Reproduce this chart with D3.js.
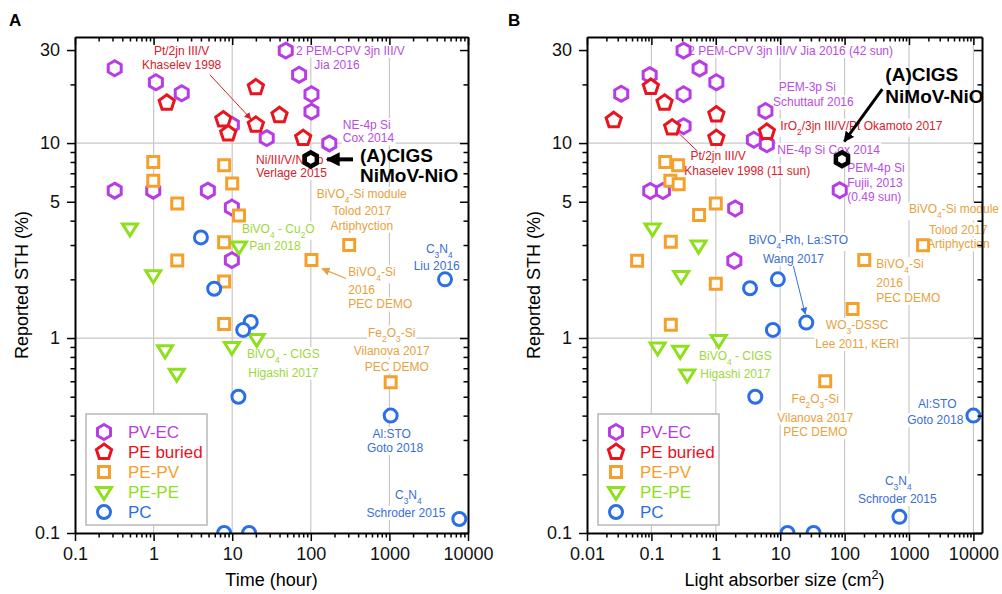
<!DOCTYPE html>
<html>
<head>
<meta charset="utf-8">
<script src="https://cdn.jsdelivr.net/npm/d3@7"></script>
<style>
body { margin: 0; background: #fff; }
svg { font-family: Arial, "Liberation Sans", sans-serif; }
</style>
</head>
<body>
<svg id="chart" width="1002" height="594"></svg>
<script>
const categories = ["PV-EC", "PE buried", "PE-PV", "PE-PE", "PC"];
const colors = ["#b83ce6", "#e8141e", "#f5a02a", "#8edf1c", "#2a6ee8"];
const noteColors = ["#b84de0", "#d8202c", "#e6a23e", "#9cd83c", "#3a6ed8", "#000"];

const yTicks = [0.1, 1, 5, 10, 30];
const xTicksA = [0.1, 1, 10, 100, 1000, 10000];
const xTicksB = [0.01, 0.1, 1, 10, 100, 1000, 10000];

// panel A : time (hour) vs reported STH (%)
const pvEcTime = [[0.32,24.2],[1.07,20.5],[2.28,18.0],[48,29.8],[71,22.4],[102,17.8],[102,14.5],[9.9,12.4],[27.5,10.6],[172,9.96],[0.32,5.7],[0.99,5.7],[4.9,5.7],[9.9,4.67],[9.9,2.51]];
const peBuriedTime = [[1.47,16.1],[20,19.3],[7.7,13.2],[8.9,11.2],[20,12.4],[40,13.9],[80,10.6]];
const pePvTime = [[0.99,8.0],[0.99,6.4],[2.0,4.9],[7.9,7.7],[10,6.2],[12.2,4.25],[7.9,3.1],[2.0,2.5],[7.9,1.95],[7.9,1.18],[102,2.51],[308,3.0],[1038,0.594]];
const pePeTime = [[0.5,3.65],[0.99,2.1],[12.2,2.95],[1.4,0.865],[1.97,0.656],[9.9,0.9],[20.5,0.99]];
const pcTime = [[4.0,3.28],[5.9,1.79],[17.2,1.21],[13.8,1.1],[12,0.5],[7.9,0.1],[16.4,0.1],[5100,2.0],[1038,0.4],[7750,0.118]];
const cigsTime = [[100,8.25]];

// panel B : light absorber size (cm2) vs reported STH (%)
const pvEcSize = [[0.316,29.8],[0.56,24.1],[1.02,20.5],[0.094,22.3],[0.034,17.9],[0.316,17.8],[0.316,12.2],[5.9,14.6],[3.9,10.4],[6.2,9.85],[0.096,5.68],[0.151,5.68],[2.0,4.62],[1.94,2.49],[84,5.73]];
const peBuriedSize = [[0.026,13.1],[0.098,19.4],[0.16,16.1],[0.21,12.0],[1.02,14.0],[1.02,10.6],[6.2,11.4]];
const pePvSize = [[0.164,8.0],[0.26,7.7],[0.197,6.4],[0.265,6.15],[1.0,4.9],[0.55,4.28],[0.2,3.12],[0.06,2.49],[1.0,1.9],[0.2,1.17],[1656,2.99],[202,2.51],[133,1.41],[50,0.6]];
const pePeSize = [[0.104,3.65],[0.54,2.98],[0.29,2.08],[0.125,0.895],[0.28,0.86],[1.11,0.977],[0.36,0.65]];
const pcSize = [[3.4,1.8],[9.2,2.0],[25.4,1.2],[7.7,1.1],[4.1,0.5],[13,0.1],[33,0.1],[710,0.121],[10000,0.40]];
const cigsSize = [[91,8.26]];

// notes: text, x, y (data units), colour index, anchor
const notesA = [
  ["Pt/2jn III/V", 2.27, 29.8, 1, "middle"],
  ["Khaselev 1998", 2.27, 25.2, 1, "middle"],
  ["2 PEM-CPV 3jn III/V", 65, 29.8, 0, "start"],
  ["Jia 2016", 215, 25.2, 0, "middle"],
  ["NE-4p Si", 255, 12.4, 0, "start"],
  ["Cox 2014", 255, 10.6, 0, "start"],
  ["Ni/III/V/NiMo", 54, 8.25, 1, "middle"],
  ["Verlage 2015", 57, 7.0, 1, "middle"],
  ["BiVO_4-Si module", 445, 5.5, 2, "middle"],
  ["Tolod 2017", 445, 4.5, 2, "middle"],
  ["Artiphyction", 445, 3.78, 2, "middle"],
  ["BiVO_4 - Cu_2O", 38.6, 3.65, 3, "middle"],
  ["Pan 2018", 35, 2.96, 3, "middle"],
  ["C_3N_4", 4310, 2.88, 4, "middle"],
  ["Liu 2016", 4000, 2.34, 4, "middle"],
  ["BiVO_4-Si", 300, 2.18, 2, "start"],
  ["2016", 300, 1.76, 2, "start"],
  ["PEC DEMO", 300, 1.49, 2, "start"],
  ["BiVO_4 - CIGS", 44.7, 0.832, 3, "middle"],
  ["Higashi 2017", 44.7, 0.664, 3, "middle"],
  ["Fe_2O_3-Si", 1070, 1.07, 2, "middle"],
  ["Vilanova  2017", 1070, 0.865, 2, "middle"],
  ["PEC DEMO", 1240, 0.716, 2, "middle"],
  ["Al:STO", 1070, 0.323, 4, "middle"],
  ["Goto 2018", 1180, 0.274, 4, "middle"],
  ["C_3N_4", 1740, 0.157, 4, "middle"],
  ["Schroder 2015", 1625, 0.127, 4, "middle"]
];
const notesB = [
  ["2 PEM-CPV 3jn III/V  Jia 2016 (42 sun)", 0.374, 29.8, 0, "start"],
  ["PEM-3p Si", 26.4, 19.4, 0, "middle"],
  ["Schuttauf 2016", 32.7, 16.2, 0, "middle"],
  ["IrO_2/3jn III/V/Pt Okamoto 2017", 10.05, 12.3, 1, "start"],
  ["NE-4p Si Cox 2014", 9.0, 9.29, 0, "start"],
  ["Pt/2jn III/V", 1.09, 8.58, 1, "middle"],
  ["Khaselev 1998 (11 sun)", 3.08, 7.19, 1, "middle"],
  ["PEM-4p Si", 110, 7.45, 0, "start"],
  ["Fujii, 2013", 110, 6.24, 0, "start"],
  ["(0.49 sun)", 110, 5.32, 0, "start"],
  ["BiVO_4-Si module", 25000, 4.58, 2, "end"],
  ["Tolod 2017", 5840, 3.61, 2, "middle"],
  ["Artiphyction", 5840, 3.03, 2, "middle"],
  ["BiVO_4-Si", 310, 2.39, 2, "start"],
  ["2016", 310, 1.92, 2, "start"],
  ["PEC DEMO", 310, 1.61, 2, "start"],
  ["WO_3-DSSC", 157, 1.17, 2, "middle"],
  ["Lee 2011, KERI", 157, 0.935, 2, "middle"],
  ["BiVO_4-Rh, La:STO", 19.1, 3.19, 4, "middle"],
  ["Wang 2017", 16, 2.55, 4, "middle"],
  ["BiVO_4 - CIGS", 2.01, 0.812, 3, "middle"],
  ["Higashi 2017", 2.01, 0.654, 3, "middle"],
  ["Fe_2O_3-Si", 35, 0.487, 2, "middle"],
  ["Vilanova  2017", 35, 0.392, 2, "middle"],
  ["PEC DEMO", 35, 0.329, 2, "middle"],
  ["Al:STO", 2750, 0.459, 4, "middle"],
  ["Goto 2018", 2560, 0.38, 4, "middle"],
  ["C_3N_4", 682, 0.186, 4, "middle"],
  ["Schroder 2015", 658, 0.15, 4, "middle"]
];
const boldA = [["(A)CIGS", 423, 8.7], ["NiMoV-NiO", 423, 6.85]];
const boldB = [["(A)CIGS", 429, 22.6], ["NiMoV-NiO", 429, 17.4]];

// arrows: from, to (data units), colour index, width
const arrowsA = [[[5.2,22.4],[17.3,13.3],1,1], [[281,2.02],[139,2.27],2,1.2], [[344,8.25],[161,8.25],5,4]];
const arrowsB = [[[0.516,9.1],[0.227,11.8],1,1], [[385,18.9],[99,10.2],5,3], [[16,2.34],[24.5,1.33],4,1]];

const svg = d3.select("#chart");

const defs = svg.append("defs");
noteColors.forEach((c, i) => {
  defs.append("marker").attr("id", "ah" + i)
    .attr("viewBox", "0 0 10 10").attr("refX", 9).attr("refY", 5)
    .attr("markerWidth", i === 5 ? 3.5 : 7).attr("markerHeight", i === 5 ? 3.5 : 7)
    .attr("markerUnits", "strokeWidth").attr("orient", "auto")
    .append("path").attr("d", "M0,0 L10,5 L0,10 z").attr("fill", c);
});

function polygon(n, r, rot) {
  const pts = d3.range(n).map(k => {
    const a = (rot + k * 360 / n) * Math.PI / 180;
    return [r * Math.cos(a), r * Math.sin(a)];
  });
  return "M" + pts.map(p => p.join(",")).join("L") + "Z";
}
const shapes = [
  polygon(6, 7.5, -90),
  polygon(5, 8, -90),
  "M-5.5,-5.5H5.5V5.5H-5.5Z",
  "M-7.5,-4.5H7.5L0,7.5Z",
  d3.symbol(d3.symbolCircle, Math.PI * 6.5 * 6.5)()
];

function rich(t, s) {
  s.split(/([_^]\d)/).forEach(p => {
    if (!p) return;
    if (p[0] === "_" || p[0] === "^") {
      t.append("tspan").attr("baseline-shift", p[0] === "_" ? "sub" : "super")
        .attr("font-size", "70%").text(p[1]);
    } else t.append("tspan").text(p);
  });
}

function majorMinor(domain) {
  const out = [];
  for (let k = Math.floor(Math.log10(domain[0])); k <= Math.ceil(Math.log10(domain[1])); k++) {
    for (let m = 1; m <= 9; m++) {
      const v = +(m * Math.pow(10, k)).toPrecision(6);
      if (v >= domain[0] * 0.999 && v <= domain[1] * 1.001) out.push(v);
    }
  }
  return out;
}

function drawPanel(cfg) {
  const x = d3.scaleLog().domain(cfg.xDomain).range(cfg.xRange);
  const y = d3.scaleLog().domain([0.1, 35]).range([533, 37]);
  const [x0, x1] = cfg.xRange, [y0, y1] = y.range();
  const g = svg.append("g");

  // grid
  g.selectAll(".gx").data(cfg.xGrid).join("line")
    .attr("x1", d => x(d)).attr("x2", d => x(d)).attr("y1", y0).attr("y2", y1)
    .attr("stroke", "#c8c8c8").attr("stroke-width", 1.2);
  g.selectAll(".gy").data([1, 10]).join("line")
    .attr("x1", x0).attr("x2", x1).attr("y1", d => y(d)).attr("y2", d => y(d))
    .attr("stroke", "#c8c8c8").attr("stroke-width", 1.2);

  // notes with white boxes
  const nl = g.append("g").attr("font-size", 12);
  cfg.notes.forEach(n => {
    const ng = nl.append("g");
    const r = ng.append("rect").attr("fill", "#fff");
    const t = ng.append("text").attr("x", x(n[1])).attr("y", y(n[2])).attr("dy", "0.35em")
      .attr("text-anchor", n[4]).attr("fill", noteColors[n[3]]);
    rich(t, n[0]);
    const b = t.node().getBBox();
    r.attr("x", b.x - 1).attr("y", b.y).attr("width", b.width + 2).attr("height", b.height);
  });
  g.append("g").selectAll("text").data(cfg.bold).join("text")
    .attr("x", d => x(d[1])).attr("y", d => y(d[2])).attr("dy", "0.35em")
    .attr("font-size", 19).attr("font-weight", "bold").text(d => d[0]);

  // arrows
  g.append("g").selectAll("line").data(cfg.arrows).join("line")
    .attr("x1", d => x(d[0][0])).attr("y1", d => y(d[0][1]))
    .attr("x2", d => x(d[1][0])).attr("y2", d => y(d[1][1]))
    .attr("stroke", d => noteColors[d[2]]).attr("stroke-width", d => d[3])
    .attr("marker-end", d => "url(#ah" + d[2] + ")");

  // markers
  const clipId = "clip" + cfg.id;
  defs.append("clipPath").attr("id", clipId).append("rect")
    .attr("x", x0).attr("y", y1).attr("width", x1 - x0).attr("height", y0 - y1);
  const ml = g.append("g").attr("clip-path", "url(#" + clipId + ")");
  cfg.series.forEach((s, i) => {
    ml.append("g").selectAll("path").data(s).join("path")
      .attr("d", shapes[i])
      .attr("transform", d => `translate(${x(d[0])},${y(d[1])})`)
      .attr("fill", "#fff").attr("stroke", colors[i]).attr("stroke-width", 3);
  });
  ml.append("g").selectAll("path").data(cfg.cigs).join("path")
    .attr("d", polygon(6, 7, -90))
    .attr("transform", d => `translate(${x(d[0])},${y(d[1])})`)
    .attr("fill", "#fff").attr("stroke", "#000").attr("stroke-width", 4.5);

  // legend
  const lg = g.append("g").attr("transform", `translate(${x0 + 11},414)`);
  lg.append("rect").attr("width", 121).attr("height", 111)
    .attr("fill", "#fff").attr("stroke", "#b8b8b8").attr("stroke-width", 1.5);
  categories.forEach((c, i) => {
    lg.append("path").attr("d", shapes[i])
      .attr("transform", `translate(18,${18 + i * 20})`)
      .attr("fill", "#fff").attr("stroke", colors[i]).attr("stroke-width", 3);
    lg.append("text").attr("x", 42).attr("y", 18 + i * 20).attr("dy", "0.35em")
      .attr("font-size", 17).attr("fill", colors[i]).text(c);
  });

  // axes, with minor ticks
  const xt = majorMinor(cfg.xDomain), yt = majorMinor([0.1, 35]);
  const xMaj = d => cfg.xTicks.includes(d), yMaj = d => yTicks.includes(d);
  function style(a) {
    a.attr("font-size", 18).attr("font-family", "Arial, 'Liberation Sans', sans-serif");
    a.select(".domain").attr("stroke", "#000").attr("stroke-width", 2);
    a.selectAll(".tick line").attr("stroke", "#000").attr("stroke-width", 1.5);
    a.selectAll(".tick text").attr("fill", "#111");
  }
  const bx = g.append("g").attr("transform", `translate(0,${y0})`)
    .call(d3.axisBottom(x).tickValues(xt).tickSize(8).tickSizeOuter(0).tickPadding(6)
      .tickFormat(d => xMaj(d) ? String(d) : ""));
  bx.selectAll(".tick line").attr("y2", d => xMaj(d) ? 8 : 4.5);
  style(bx);
  const tx = g.append("g").attr("transform", `translate(0,${y1})`)
    .call(d3.axisTop(x).tickValues(xt).tickSize(-8).tickSizeOuter(0).tickFormat(""));
  tx.selectAll(".tick line").attr("y2", d => xMaj(d) ? 8 : 4.5);
  style(tx);
  const ly = g.append("g").attr("transform", `translate(${x0},0)`)
    .call(d3.axisLeft(y).tickValues(yt).tickSize(8).tickSizeOuter(0).tickPadding(7)
      .tickFormat(d => yTicks.includes(d) ? String(d) : ""));
  ly.selectAll(".tick line").attr("x2", d => yMaj(d) ? -8 : -4.5);
  style(ly);
  const ry = g.append("g").attr("transform", `translate(${x1},0)`)
    .call(d3.axisRight(y).tickValues(yt).tickSize(-8).tickSizeOuter(0).tickFormat(""));
  ry.selectAll(".tick line").attr("x2", d => yMaj(d) ? -8 : -4.5);
  style(ry);

  // titles
  const xt2 = g.append("text").attr("x", (x0 + x1) / 2).attr("y", 586)
    .attr("text-anchor", "middle").attr("font-size", 18);
  rich(xt2, cfg.xTitle);
  g.append("text").attr("transform", `translate(${x0 - 47},${(y0 + y1) / 2}) rotate(-90)`)
    .attr("text-anchor", "middle").attr("font-size", 18).text("Reported STH (%)");
  g.append("text").attr("x", cfg.labelX).attr("y", 26).attr("font-size", 17)
    .attr("font-weight", "bold").text(cfg.id);
}

drawPanel({
  id: "A", xDomain: [0.1, 10000], xRange: [75, 468], xGrid: [1, 10, 100, 1000],
  xTicks: xTicksA, xTitle: "Time (hour)", labelX: 9,
  series: [pvEcTime, peBuriedTime, pePvTime, pePeTime, pcTime], cigs: cigsTime,
  notes: notesA, bold: boldA, arrows: arrowsA
});
drawPanel({
  id: "B", xDomain: [0.01, 13600], xRange: [587, 982], xGrid: [0.1, 1, 10, 100, 1000, 10000],
  xTicks: xTicksB, xTitle: "Light absorber size (cm^2)", labelX: 508,
  series: [pvEcSize, peBuriedSize, pePvSize, pePeSize, pcSize], cigs: cigsSize,
  notes: notesB, bold: boldB, arrows: arrowsB
});
</script>
</body>
</html>
